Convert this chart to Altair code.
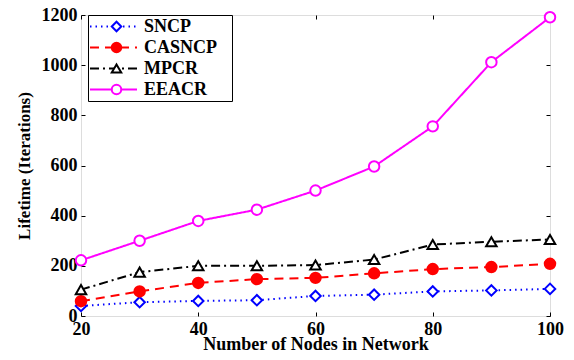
import altair as alt
import pandas as pd

nodes = [20, 30, 40, 50, 60, 70, 80, 90, 100]
series_names = ["SNCP", "CASNCP", "MPCR", "EEACR"]
point_keys = ["p_SNCP", "p_CASNCP", "p_MPCR", "p_EEACR"]
sncp = [40, 55, 60, 63, 80, 85, 98, 102, 108]
casncp = [59, 98, 132, 147, 152, 170, 187, 195, 208]
mpcr = [105, 175, 200, 200, 203, 225, 285, 296, 305]
eeacr = [222, 300, 379, 424, 500, 596, 756, 1012, 1191]

x_ticks = [20, 40, 60, 80, 100]
y_ticks = [0, 200, 400, 600, 800, 1000, 1200]

colors = ["#0000ff", "#ff0000", "#000000", "#ff00ff"]
fills = ["#ffffff", "#ff0000", "#ffffff", "#ffffff"]
dashes = [[1.5, 4], [9, 6], [9, 4, 2, 4], [1, 0]]
shapes = ["diamond", "circle", "triangle-up", "circle"]

rows = []
for name, key, vals in zip(series_names, point_keys, [sncp, casncp, mpcr, eeacr]):
    for n, v in zip(nodes, vals):
        rows.append({"nodes": n, "lifetime": v, "series": name, "series_p": key})
df = pd.DataFrame(rows)

FONT = "Liberation Serif"

xscale = alt.Scale(domain=[20, 100], nice=False)
yscale = alt.Scale(domain=[0, 1200], nice=False)

def x_axis(orient, labels=True):
    kw = dict(orient=orient, values=x_ticks, grid=False, domain=False,
              tickSize=4, offset=-4, tickColor="black", tickWidth=1,
              labelFlush=False, labelOverlap=False)
    if labels:
        kw.update(labelFont=FONT, labelFontSize=18, labelFontWeight="bold",
                  labelColor="black", labelPadding=4, format="d",
                  title="Number of Nodes in Network", titleFont=FONT,
                  titleFontSize=18, titleFontWeight="bold", titleColor="black",
                  titlePadding=-3)
    else:
        kw.update(labels=False, title=None)
    return alt.Axis(**kw)

def y_axis(orient, labels=True):
    kw = dict(orient=orient, values=y_ticks, grid=False, domain=False,
              tickSize=4, offset=-4, tickColor="black", tickWidth=1,
              labelFlush=False, labelOverlap=False)
    if labels:
        kw.update(labelFont=FONT, labelFontSize=18, labelFontWeight="bold",
                  labelColor="black", labelPadding=4, format="d",
                  title="Lifetime (Iterations)", titleFont=FONT,
                  titleFontSize=17, titleFontWeight="bold", titleColor="black",
                  titlePadding=8)
    else:
        kw.update(labels=False, title=None)
    return alt.Axis(**kw)

line_legend = alt.Legend(
    title=None, orient="none", legendX=7, legendY=0, symbolType="stroke",
    symbolSize=2209, symbolStrokeWidth=2, labelFont=FONT, labelFontSize=18,
    labelFontWeight="bold", labelColor="black", labelOffset=6,
    strokeColor="black", fillColor="white", padding=1, rowPadding=0,
    clipHeight=21,
    labelExpr="datum.label + '\\u00a0\\u00a0\\u00a0\\u200b'",
)
point_legend = alt.Legend(
    title=None, orient="none", legendX=27, legendY=1,
    symbolStrokeWidth=2, symbolSize=90, labelExpr="''", labelFontSize=17,
    padding=0, rowPadding=0, clipHeight=21,
)

base = alt.Chart(df)

lines = base.mark_line(strokeWidth=2).encode(
    x=alt.X("nodes:Q", scale=xscale, axis=x_axis("bottom")),
    y=alt.Y("lifetime:Q", scale=yscale, axis=y_axis("left")),
    color=alt.Color("series:N",
                    scale=alt.Scale(domain=series_names, range=colors),
                    legend=line_legend),
    strokeDash=alt.StrokeDash("series:N",
                              scale=alt.Scale(domain=series_names, range=dashes),
                              legend=line_legend),
)

points = base.mark_point(size=110, strokeWidth=2, opacity=1).encode(
    x=alt.X("nodes:Q", scale=xscale, axis=x_axis("top", labels=False)),
    y=alt.Y("lifetime:Q", scale=yscale, axis=y_axis("right", labels=False)),
    stroke=alt.Stroke("series_p:N",
                      scale=alt.Scale(domain=point_keys, range=colors),
                      legend=point_legend),
    fill=alt.Fill("series_p:N",
                  scale=alt.Scale(domain=point_keys, range=fills),
                  legend=point_legend),
    shape=alt.Shape("series_p:N",
                    scale=alt.Scale(domain=point_keys, range=shapes),
                    legend=point_legend),
)

chart = alt.layer(lines, points).properties(
    width=469, height=301,
    autosize=alt.AutoSizeParams(type="none"),
    padding={"left": 73, "top": 7, "right": 16, "bottom": 36},
).configure_view(stroke="black", strokeWidth=1).configure(background="white")

chart.save("out.html", embed_options={"renderer": "svg", "actions": False})
